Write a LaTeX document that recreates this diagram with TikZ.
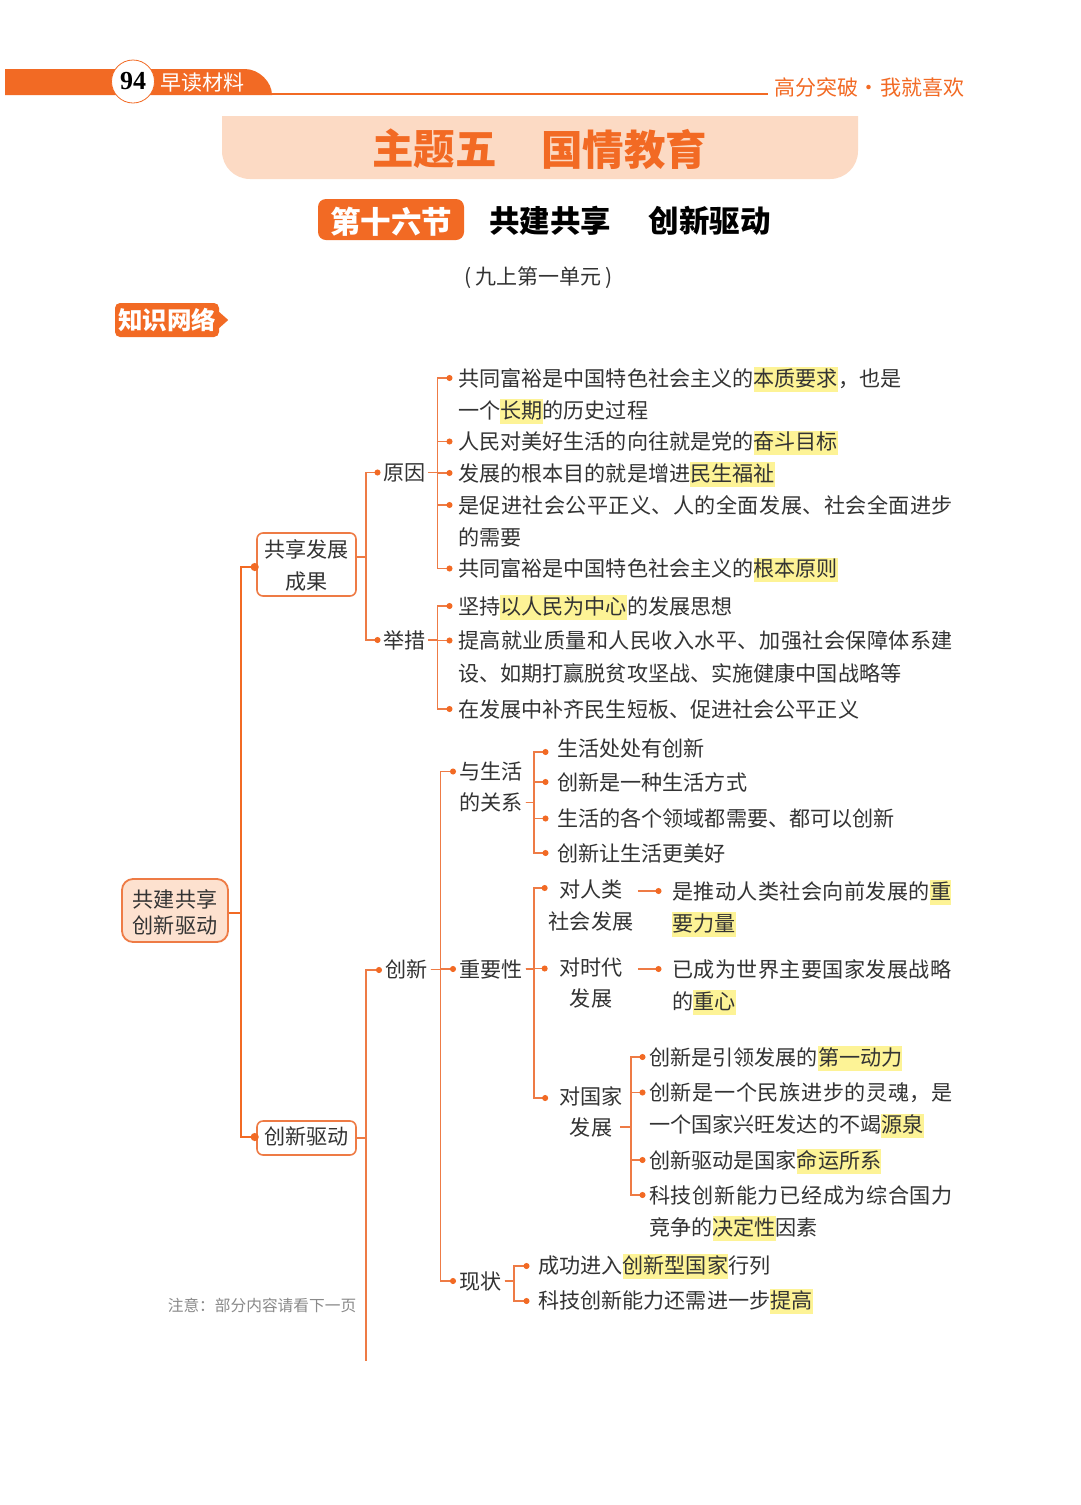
\documentclass[tikz,border=0pt]{standalone}
\usepackage{fontspec}
\usetikzlibrary{arrows.meta}
\setmainfont{Noto Sans CJK SC}
\newfontfamily\numf{Liberation Serif}
\definecolor{org}{HTML}{F26A24}
\definecolor{lnc}{HTML}{EE7B45}
\definecolor{hly}{HTML}{FDF396}
\definecolor{bandc}{HTML}{FCDAC4}
\definecolor{rootc}{HTML}{FDE1CF}
\definecolor{ink}{HTML}{333333}
\definecolor{note}{HTML}{8A8A8A}
\newcommand\bodyf{\fontsize{21.1}{32}\selectfont}
\newcommand\hl[1]{{\setlength{\fboxsep}{0pt}\colorbox{hly}{\rule[-5.5pt]{0pt}{24.5pt}#1}}}
\newcommand\trk[1]{\addfontfeature{LetterSpace=#1}}
\tikzset{
  txt/.style={anchor=west,inner ysep=0pt,text height=16pt,text depth=0pt,font=\bodyf,text=ink},
  ctr/.style={anchor=center,inner ysep=0pt,text height=16pt,text depth=0pt,font=\bodyf,text=ink},
  lnk/.style={draw=lnc,line width=1.2pt,-{Circle[length=6pt,width=6pt,fill=org,color=org]}},
  stem/.style={draw=lnc,line width=1.2pt},
  mainln/.style={draw=org,line width=2pt,-{Circle[length=8pt,width=8pt,fill=org,color=org]}},
  box/.style={draw=lnc,line width=1.6pt,rounded corners=6pt,fill=white,font=\bodyf,text=ink,align=center,minimum width=99pt,inner sep=0pt,anchor=center},
  rootbox/.style={draw=lnc,line width=1.8pt,rounded corners=11pt,fill=rootc,text=ink,align=center,minimum width=106pt,minimum height=63pt,inner sep=0pt,anchor=center,font=\fontsize{21.1}{26}\selectfont},
}
\newcommand\brn[3]{\draw[lnk] (#1) -- (#1 -| #2) |- #3;}
\begin{document}
\begin{tikzpicture}[x=1pt,y=-1pt]
\useasboundingbox (0,0) rectangle (1080,1505);
\fill[white] (0,0) rectangle (1080,1505);
% header
\coordinate (hl1) at (272,93.5);
\coordinate (hl2) at (768,93.5);
\draw[org,line width=2pt] (hl1) -- (hl2);
\fill[org] (5,69) -- (245,69) .. controls (259,69) and (272,82) .. (272,95) -- (5,95) -- cycle;
\node[circle,draw=org,line width=0.8pt,fill=white,minimum size=43pt,inner sep=0pt,font=\numf\bfseries\fontsize{26}{26}\selectfont] (pg) at (133,81.5) {94};
\node[anchor=center,inner sep=0pt,text=white,font=\fontsize{21}{21}\selectfont] (early) at (202,82.5) {早读材料};
\node[anchor=center,inner sep=0pt,text=org,font=\fontsize{21}{21}\selectfont] (slogan) at (869.5,87) {高分突破\hspace{0.5pt}·\hspace{0.5pt}我就喜欢};
% title
\fill[bandc] (222,116) -- (858,116) -- (858,151) .. controls (858,166.5) and (845.5,179) .. (830,179) -- (250,179) .. controls (234.5,179) and (222,166.5) .. (222,151) -- cycle;
\node[anchor=center,inner sep=0pt,text=org,font=\bfseries\fontsize{41.5}{42}\selectfont] (tt1) at (434.5,149) {主题五};
\node[anchor=center,inner sep=0pt,text=org,font=\bfseries\fontsize{41.5}{42}\selectfont] (tt2) at (624,149) {国情教育};
\node[fill=org,rounded corners=8pt,minimum width=146pt,minimum height=41pt,inner sep=0pt,text=white,font=\bfseries\fontsize{30.5}{31}\selectfont] (sec) at (391,219.5) {\rule{0pt}{31pt}第十六节};
\node[anchor=center,inner sep=0pt,text=black,font=\bfseries\fontsize{30.5}{31}\selectfont] (sa) at (550,221) {共建共享};
\node[anchor=center,inner sep=0pt,text=black,font=\bfseries\fontsize{30.5}{31}\selectfont] (sb) at (709.5,221) {创新驱动};
\node[anchor=center,inner sep=0pt,text=ink,font=\fontsize{21}{21}\selectfont] (unit) at (539,278) {(\hspace{4pt}九上第一单元\hspace{4pt})};
\node[fill=org,rounded corners=5pt,minimum width=104pt,minimum height=34pt,inner sep=0pt,text=white,font=\bfseries\fontsize{24.5}{25}\selectfont] (tag) at (167,320) {知识网络};
\fill[org] ([yshift=8pt]tag.east) -- ([xshift=9pt]tag.east) -- ([yshift=-8pt]tag.east) -- cycle;
% boxes
\node[rootbox] (root) at (175,910.5) {\rule{0pt}{22.3pt}共建共享\\创新驱动};
\node[box,minimum height=63pt] (share) at (306.5,564.5) {\rule{0pt}{20.3pt}共享发展\\成果};
\node[box,minimum height=34pt] (innov) at (306.5,1138) {\rule[-4.5pt]{0pt}{1pt}创新驱动};
% bus coordinates
\coordinate (b1) at (241,0);
\coordinate (b2) at (366,0);
\coordinate (b3) at (437.5,0);
\coordinate (b4) at (440.5,0);
\coordinate (b5) at (534,0);
\coordinate (b6) at (631,0);
\coordinate (b7) at (514,0);
\coordinate (cont) at (366,1361);
% second level
\node[txt,inner xsep=2.5pt] (yy) at (380.5,472.5) {原因};
\node[txt,inner xsep=2.5pt] (jc) at (380.5,640) {举措};
\node[txt,inner xsep=3pt] (cx) at (382,969.5) {创新};
% reason leaves
\node[txt,inner xsep=5.5pt] (r1) at (452.5,378) {共同富裕是中国特色社会主义的\hl{本质要求}，也是};
\node[txt,inner xsep=5.5pt] (r1b) at (452.5,410) {一个\hl{长期}的历史过程};
\node[txt,inner xsep=5.5pt] (r2) at (452.5,441.5) {人民对美好生活的向往就是党的\hl{奋斗目标}};
\node[txt,inner xsep=5.5pt] (r3) at (452.5,473) {发展的根本目的就是增进\hl{民生福祉}};
\node[txt,inner xsep=5.5pt] (r4) at (452.5,505) {\trk{2}是促进社会公平正义、人的全面发展、社会全面进步};
\node[txt,inner xsep=5.5pt] (r4b) at (452.5,537) {的需要};
\node[txt,inner xsep=5.5pt] (r5) at (452.5,568.5) {共同富裕是中国特色社会主义的\hl{根本原则}};
% measure leaves
\node[txt,inner xsep=5.5pt] (m1) at (452.5,606) {坚持\hl{以人民为中心}的发展思想};
\node[txt,inner xsep=5.5pt] (m2) at (452.5,640.5) {\trk{2}提高就业质量和人民收入水平、加强社会保障体系建};
\node[txt,inner xsep=5.5pt] (m2b) at (452.5,673) {设、如期打赢脱贫攻坚战、实施健康中国战略等};
\node[txt,inner xsep=5.5pt] (m3) at (452.5,709) {在发展中补齐民生短板、促进社会公平正义};
% innovation third level
\node[txt,inner xsep=3pt] (sh1) at (456,771.5) {与生活};
\node[txt,inner xsep=3pt] (sh2) at (456,802.5) {的关系};
\node[txt,inner xsep=3pt] (zy) at (456,969) {重要性};
\node[txt,inner xsep=3pt] (xz) at (456,1281) {现状};
% life leaves
\node[txt,inner xsep=8.5pt] (l1) at (548.5,748) {生活处处有创新};
\node[txt,inner xsep=8.5pt] (l2) at (548.5,782) {创新是一种生活方式};
\node[txt,inner xsep=8.5pt] (l3) at (548.5,818.5) {生活的各个领域都需要、都可以创新};
\node[txt,inner xsep=8.5pt] (l4) at (548.5,853) {创新让生活更美好};
% importance
\node[ctr,inner xsep=15pt] (i1) at (591,889) {对人类};
\node[ctr,inner xsep=0pt] (i1b) at (591,921) {社会发展};
\node[ctr,inner xsep=15pt] (i2) at (591,967.5) {对时代};
\node[ctr,inner xsep=0pt] (i2b) at (591,998.5) {发展};
\node[ctr,inner xsep=0pt] (i3) at (591,1096) {对国家};
\node[ctr,inner xsep=8pt] (i3b) at (591,1127) {发展};
\node[txt,inner xsep=10.5pt] (a1) at (661.5,891) {\trk{2}是推动人类社会向前发展的\hl{重}};
\node[txt,inner xsep=10.5pt] (a1b) at (661.5,923) {\hl{要力量}};
\node[txt,inner xsep=10.5pt] (a2) at (661.5,969) {\trk{2}已成为世界主要国家发展战略};
\node[txt,inner xsep=10.5pt] (a2b) at (661.5,1001) {的\hl{重心}};
% nation leaves
\node[txt,inner xsep=3.5pt] (n1) at (645.5,1057) {创新是引领发展的\hl{第一动力}};
\node[txt,inner xsep=3.5pt] (n2) at (645.5,1092.5) {\trk{3}创新是一个民族进步的灵魂，是};
\node[txt,inner xsep=3.5pt] (n2b) at (645.5,1124.5) {一个国家兴旺发达的不竭\hl{源泉}};
\node[txt,inner xsep=3.5pt] (n3) at (645.5,1160) {创新驱动是国家\hl{命运所系}};
\node[txt,inner xsep=3.5pt] (n4) at (645.5,1195) {\trk{3}科技创新能力已经成为综合国力};
\node[txt,inner xsep=3.5pt] (n4b) at (645.5,1227) {竞争的\hl{决定性}因素};
% status leaves
\node[txt,inner xsep=8.5pt] (s1) at (529.5,1265) {成功进入\hl{创新型国家}行列};
\node[txt,inner xsep=8.5pt] (s2) at (529.5,1300) {科技创新能力还需进一步\hl{提高}};
% note
\node[anchor=center,inner sep=0pt,text=note,font=\fontsize{15.7}{18}\selectfont] (nt) at (262,1305) {注意：部分内容请看下一页};
% main connectors
\draw[mainln] ([yshift=-2.5pt]root.east) -- ([yshift=-2.5pt]root.east -| b1) |- ([xshift=2.5pt,yshift=-2.5pt]share.west);
\draw[mainln] ([yshift=-2.5pt]root.east) -- ([yshift=-2.5pt]root.east -| b1) |- ([xshift=2.5pt,yshift=1pt]innov.west);
% level two
\brn{[yshift=7.5pt]share.east}{b2}{(yy.west)}
\brn{[yshift=7.5pt]share.east}{b2}{(jc.west)}
\brn{innov.east}{b2}{([yshift=-0.5pt]cx.west)}
\draw[stem] (innov.east) -- (innov.east -| b2) -- (cont);
% reason
\foreach \t in {r1,r2,r3,r4,r5}{\brn{yy.east}{b3}{(\t.west)}}
\foreach \t in {m1,m2,m3}{\brn{jc.east}{b3}{(\t.west)}}
% innovation
\brn{cx.east}{b4}{(sh1.west)}
\brn{cx.east}{b4}{(zy.west)}
\brn{cx.east}{b4}{(xz.west)}
% life
\brn{sh2.east}{b5}{([yshift=-4pt]l1.west)}
\foreach \t in {l2,l3,l4}{\brn{sh2.east}{b5}{(\t.west)}}
% importance
\brn{zy.east}{b5}{([xshift=3.5pt,yshift=1pt]i1.west)}
\brn{zy.east}{b5}{([xshift=3.5pt,yshift=-1pt]i2.west)}
\brn{zy.east}{b5}{([xshift=-11pt,yshift=-2pt]i3.west)}
\draw[lnk] ([yshift=-2pt]i1.east) -- ([yshift=0pt]a1.west);
\draw[lnk] (i2.east |- a2.west) -- (a2.west);
% nation
\foreach \t in {n1,n2,n3,n4}{\brn{i3b.east}{b6}{(\t.west)}}
% status
\foreach \t in {s1,s2}{\brn{xz.east}{b7}{([yshift=-1pt]\t.west)}}
\end{tikzpicture}
\end{document}
